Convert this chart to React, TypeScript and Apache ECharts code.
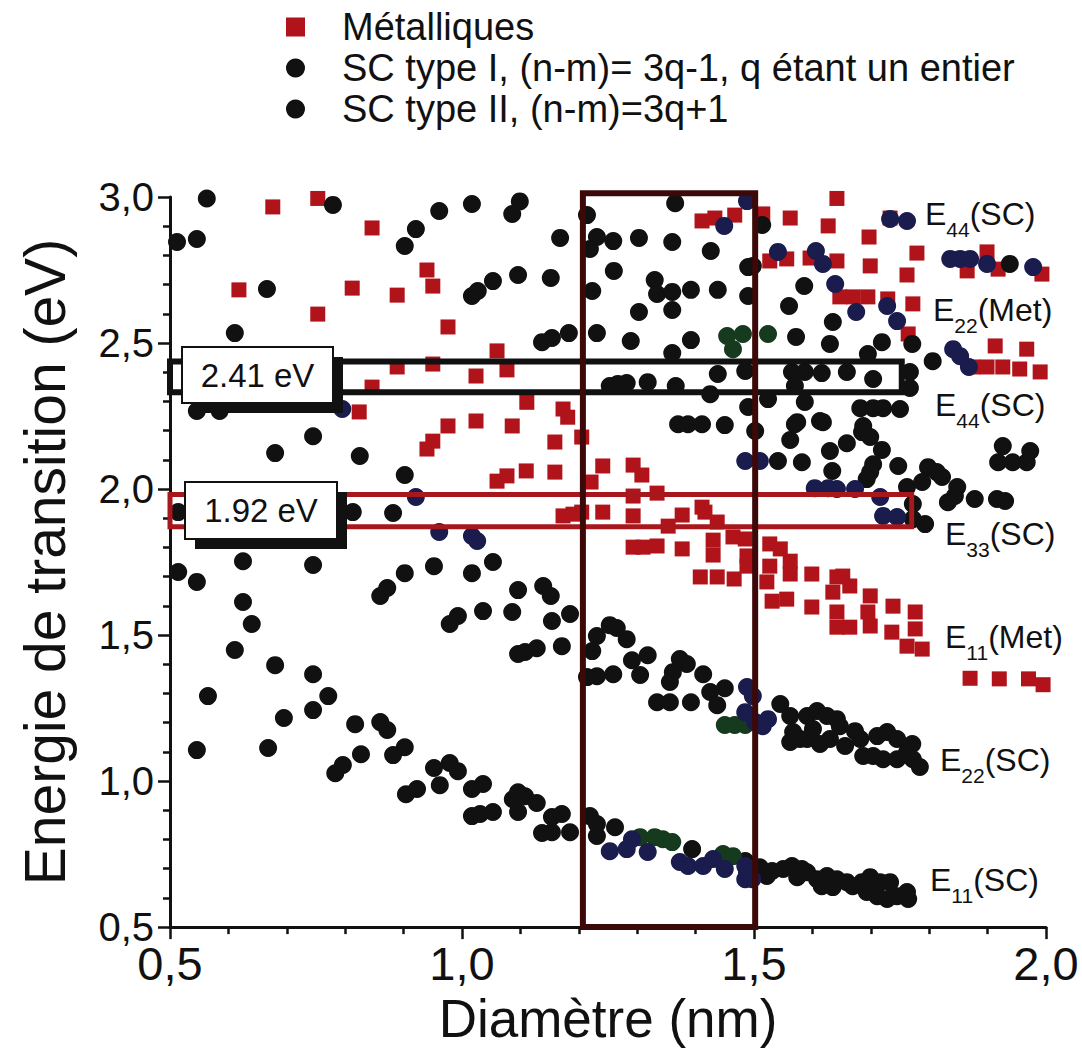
import { useEffect, useRef } from 'react';
import * as echarts from 'echarts';

const FONT = 'Liberation Sans, Arial, Helvetica, sans-serif';

const seriesNames = [
  'Métalliques',
  'SC type I, (n-m)= 3q-1, q étant un entier',
  'SC type II, (n-m)=3q+1',
];

const xTickMin = 0.5;
const xTickMax = 2.0;
const yTickMin = 0.5;
const yTickMax = 3.0;

// Metallic tubes (red squares): [diameter nm, energy eV]
const metalliques: number[][] = [
  [0.676, 2.966], [0.753, 2.995], [0.846, 2.894], [0.94, 2.75], [0.95, 2.695], [0.889, 2.664], [0.812, 2.688],
  [0.618, 2.682], [0.753, 2.599], [0.976, 2.555], [0.889, 2.418], [0.95, 2.428], [0.846, 2.349], [0.824, 2.264],
  [0.976, 2.216], [1.06, 2.473], [1.024, 2.387], [1.077, 2.408], [1.111, 2.297], [1.173, 2.274], [1.181, 2.246],
  [1.024, 2.233], [1.086, 2.216], [1.411, 2.918], [1.433, 2.928], [1.467, 2.938], [1.515, 2.942], [1.562, 2.928],
  [1.627, 2.901], [1.642, 2.995], [1.697, 2.863], [1.733, 2.928], [1.527, 2.781], [1.556, 2.788], [1.596, 2.791],
  [1.642, 2.781], [1.699, 2.764], [1.779, 2.808], [1.762, 2.733], [1.865, 2.747], [1.899, 2.812], [1.918, 2.753],
  [1.993, 2.736], [1.647, 2.658], [1.67, 2.658], [1.695, 2.658], [1.729, 2.651], [1.772, 2.634], [1.764, 2.531],
  [1.913, 2.49], [1.967, 2.479], [1.875, 2.418], [1.899, 2.418], [1.926, 2.418], [1.955, 2.411], [1.99, 2.401],
  [0.95, 2.164], [0.94, 2.137], [1.159, 2.161], [1.205, 2.178], [1.06, 2.027], [1.077, 2.045], [1.11, 2.062],
  [1.159, 2.058], [1.241, 2.079], [1.293, 2.082], [1.308, 2.048], [1.221, 2.024], [1.293, 1.976], [1.334, 1.986],
  [1.173, 1.908], [1.19, 1.914], [1.205, 1.921], [1.241, 1.921], [1.293, 1.908], [1.353, 1.873], [1.377, 1.911],
  [1.411, 1.938], [1.416, 1.921], [1.437, 1.887], [1.464, 1.836], [1.293, 1.801], [1.31, 1.801], [1.334, 1.805],
  [1.377, 1.795], [1.43, 1.825], [1.43, 1.774], [1.488, 1.736], [1.408, 1.699], [1.437, 1.699], [1.466, 1.692],
  [1.485, 1.829], [1.488, 1.771], [1.527, 1.812], [1.545, 1.795], [1.562, 1.753], [1.527, 1.736], [1.562, 1.709],
  [1.522, 1.682], [1.556, 1.623], [1.531, 1.616], [1.599, 1.709], [1.599, 1.596], [1.642, 1.699], [1.652, 1.702],
  [1.664, 1.668], [1.635, 1.647], [1.642, 1.579], [1.642, 1.527], [1.664, 1.527], [1.699, 1.634], [1.695, 1.579],
  [1.699, 1.531], [1.738, 1.599], [1.736, 1.51], [1.776, 1.579], [1.776, 1.521], [1.762, 1.462], [1.788, 1.452],
  [1.87, 1.352], [1.92, 1.35], [1.97, 1.35], [1.995, 1.33],
];

// Semiconducting tubes, black points
const scType1: number[][] = [
  [0.563, 2.995], [0.512, 2.846], [0.546, 2.856], [0.779, 2.973], [0.666, 2.685], [0.611, 2.534], [0.902, 2.832],
  [0.921, 2.89], [0.961, 2.952], [0.546, 2.267], [0.585, 2.267], [1.017, 2.976], [1.086, 2.942], [1.099, 2.985],
  [1.168, 2.86], [1.017, 2.661], [1.027, 2.678], [1.053, 2.712], [1.096, 2.733], [1.152, 2.723], [1.137, 2.503],
  [1.154, 2.517], [1.183, 2.534], [1.214, 2.938], [1.231, 2.863], [1.219, 2.822], [1.259, 2.849], [1.303, 2.86],
  [1.36, 2.846], [1.365, 2.979], [1.426, 2.815], [1.26, 2.747], [1.223, 2.678], [1.33, 2.716], [1.334, 2.668],
  [1.36, 2.675], [1.392, 2.682], [1.438, 2.682], [1.49, 2.76], [1.49, 2.661], [1.303, 2.606], [1.36, 2.613],
  [1.231, 2.534], [1.289, 2.507], [1.392, 2.51], [1.36, 2.466], [1.438, 2.394], [1.485, 2.404], [1.253, 2.353],
  [1.267, 2.36], [1.282, 2.363], [1.318, 2.366], [1.366, 2.353], [1.425, 2.325], [1.49, 2.281], [1.37, 2.222],
  [1.387, 2.222], [1.411, 2.222], [1.45, 2.219], [1.514, 2.904], [1.498, 2.764], [1.586, 2.695], [1.56, 2.627],
  [1.635, 2.572], [1.572, 2.521], [1.63, 2.497], [1.719, 2.503], [1.771, 2.497], [1.695, 2.462], [1.806, 2.438],
  [1.565, 2.401], [1.587, 2.401], [1.616, 2.397], [1.659, 2.401], [1.704, 2.377], [1.57, 2.353], [1.767, 2.401],
  [1.767, 2.346], [1.524, 2.308], [1.587, 2.298], [1.613, 2.233], [1.574, 2.229], [1.682, 2.277], [1.704, 2.277],
  [1.721, 2.277], [1.75, 2.274], [1.687, 2.216], [1.938, 2.771], [0.745, 2.181], [0.68, 2.123], [0.825, 2.113],
  [0.902, 2.048], [0.514, 1.921], [0.813, 1.921], [0.882, 1.918], [0.625, 1.753], [0.745, 1.74], [0.514, 1.716],
  [0.546, 1.682], [0.902, 1.712], [0.952, 1.736], [0.86, 1.634], [0.872, 1.661], [0.625, 1.613], [0.64, 1.538],
  [0.611, 1.449], [0.68, 1.397], [0.745, 1.366], [0.979, 1.538], [0.993, 1.565], [1.053, 1.75], [1.017, 1.712],
  [1.096, 1.654], [1.139, 1.668], [1.152, 1.634], [1.185, 1.572], [1.154, 1.548], [1.036, 1.582], [1.086, 1.579],
  [1.096, 1.435], [1.108, 1.442], [1.128, 1.455], [1.171, 1.462], [1.231, 1.497], [1.253, 1.534], [1.265, 1.524],
  [1.282, 1.486], [1.223, 1.445], [1.291, 1.414], [1.318, 1.431], [1.373, 1.418], [1.385, 1.401], [1.413, 1.366],
  [1.361, 1.373], [1.231, 1.359], [1.259, 1.366], [1.305, 1.363], [1.502, 2.199], [1.57, 2.222], [1.618, 2.229],
  [1.562, 2.168], [1.63, 2.13], [1.659, 2.157], [1.685, 2.195], [1.699, 2.178], [1.719, 2.134], [1.541, 2.096],
  [1.582, 2.092], [1.634, 2.062], [1.704, 2.085], [1.699, 2.058], [1.693, 2.034], [1.747, 2.079], [1.798, 2.075],
  [1.813, 2.058], [1.822, 2.041], [1.788, 2.024], [1.848, 2.007], [1.844, 1.976], [1.832, 1.955], [1.878, 1.966],
  [1.916, 1.966], [1.93, 1.959], [1.926, 2.147], [1.918, 2.092], [1.943, 2.092], [1.967, 2.092], [1.973, 2.13],
  [1.762, 2.007], [1.772, 1.949], [1.772, 1.897], [1.793, 1.88], [0.565, 1.291], [0.546, 1.106], [0.695, 1.216],
  [0.668, 1.113], [0.745, 1.243], [0.771, 1.291], [0.817, 1.195], [0.827, 1.092], [0.783, 1.027], [0.796, 1.055],
  [0.86, 1.202], [0.872, 1.175], [0.882, 1.089], [0.902, 1.116], [0.904, 0.955], [0.923, 0.973], [0.952, 1.045],
  [0.962, 0.986], [0.979, 1.062], [0.993, 1.034], [1.017, 0.973], [1.036, 0.99], [1.017, 0.88], [1.031, 0.887],
  [1.053, 0.894], [1.087, 0.938], [1.096, 0.962], [1.108, 0.948], [1.096, 0.894], [1.128, 0.925], [1.137, 0.822],
  [1.154, 0.825], [1.154, 0.877], [1.171, 0.887], [1.185, 0.825], [1.219, 0.88], [1.231, 0.853], [1.231, 0.812],
  [1.262, 0.842], [1.394, 0.767], [1.485, 0.726], [1.214, 1.356], [1.334, 1.27], [1.356, 1.27], [1.392, 1.27],
  [1.425, 1.305], [1.45, 1.318], [1.437, 1.26], [1.356, 1.339], [1.545, 1.264], [1.562, 1.223], [1.567, 1.168],
  [1.562, 1.134], [1.579, 1.144], [1.591, 1.223], [1.608, 1.24], [1.625, 1.223], [1.642, 1.212], [1.647, 1.188],
  [1.601, 1.178], [1.591, 1.144], [1.613, 1.127], [1.63, 1.144], [1.656, 1.12], [1.673, 1.171], [1.682, 1.144],
  [1.687, 1.086], [1.704, 1.086], [1.721, 1.075], [1.711, 1.154], [1.728, 1.168], [1.745, 1.144], [1.745, 1.075],
  [1.762, 1.099], [1.771, 1.127], [1.772, 1.075], [1.784, 1.048], [1.51, 0.705], [1.522, 0.675], [1.531, 0.692],
  [1.55, 0.699], [1.565, 0.709], [1.582, 0.699], [1.591, 0.688], [1.574, 0.671], [1.608, 0.664], [1.625, 0.675],
  [1.642, 0.664], [1.616, 0.64], [1.635, 0.637], [1.659, 0.654], [1.669, 0.64], [1.685, 0.654], [1.699, 0.671],
  [1.716, 0.654], [1.733, 0.654], [1.693, 0.62], [1.711, 0.606], [1.728, 0.596], [1.745, 0.606], [1.762, 0.62],
  [1.764, 0.596],
];

// Semiconducting points printed with a dark green tint
const scType1Green: number[][] = [
  [1.454, 2.524], [1.464, 2.479], [1.481, 2.531], [1.524, 2.531], [1.305, 0.808], [1.33, 0.808], [1.344, 0.801],
  [1.36, 0.791], [1.447, 0.75], [1.464, 0.743], [1.45, 1.192], [1.467, 1.192], [1.485, 1.192],
];

// Semiconducting points printed with a navy tint
const scType2: number[][] = [
  [1.488, 2.986], [1.449, 2.901], [1.541, 2.812], [1.606, 2.815], [1.618, 2.771], [1.639, 2.702], [1.675, 2.606],
  [1.728, 2.627], [1.745, 2.575], [1.841, 2.479], [1.853, 2.455], [1.868, 2.418], [1.733, 2.925], [1.762, 2.918],
  [1.836, 2.788], [1.853, 2.788], [1.87, 2.788], [1.899, 2.771], [1.978, 2.76], [0.795, 2.274], [0.921, 1.973],
  [0.961, 1.853], [1.017, 1.839], [1.026, 1.822], [1.485, 2.096], [1.51, 2.096], [1.604, 2.003], [1.627, 2.003],
  [1.642, 2.0], [1.673, 2.0], [1.716, 1.973], [1.721, 1.908], [1.745, 1.904], [1.253, 0.76], [1.282, 0.767],
  [1.291, 0.801], [1.318, 0.757], [1.373, 0.723], [1.387, 0.709], [1.413, 0.709], [1.43, 0.733], [1.45, 0.699],
  [1.485, 0.664], [1.488, 1.322], [1.498, 1.291], [1.485, 1.236], [1.502, 1.202], [1.515, 1.188], [1.524, 1.212],
  [1.485, 0.709], [1.488, 0.688], [1.497, 0.664],
];

// Annotation boxes in data coordinates: [x0, y0, x1, y1]
const bandBlack = [0.5, 2.331, 1.753, 2.437];
const bandRed = [0.5, 1.871, 1.77, 1.981];
const windowBox = [1.207, 0.5, 1.502, 3.013];

const bandLabels = [
  { text: '2.41 eV', x: 182, y: 347, w: 151, h: 56 },
  { text: '1.92 eV', x: 185, y: 482, w: 152, h: 57 },
];

const transitionLabels = [
  { sub: '44', tail: '(SC)', x: 925, y: 188 },
  { sub: '22', tail: '(Met)', x: 933, y: 284 },
  { sub: '44', tail: '(SC)', x: 935, y: 379 },
  { sub: '33', tail: '(SC)', x: 945, y: 508 },
  { sub: '11', tail: '(Met)', x: 945, y: 611 },
  { sub: '22', tail: '(SC)', x: 940, y: 734 },
  { sub: '11', tail: '(SC)', x: 930, y: 854 },
];

const fmt = (v: number) => v.toFixed(1).replace('.', ',');

export default function App() {
  const ref = useRef<HTMLDivElement>(null);

  useEffect(() => {
    const chart = echarts.init(ref.current!, null, { renderer: 'svg' });
    const option: any = {
      animation: false,
      backgroundColor: '#ffffff',
      textStyle: { fontFamily: FONT },
      grid: { left: 170, right: 36, top: 197, bottom: 122, containLabel: false },
      legend: {
        orient: 'vertical',
        left: 281,
        top: 3,
        itemWidth: 19,
        itemHeight: 19,
        itemGap: 3,
        selectedMode: false,
        textStyle: { fontSize: 38, color: '#111', fontFamily: FONT, padding: [0, 0, 0, 32] },
        data: [
          { name: seriesNames[0], icon: 'rect', itemStyle: { color: '#b0131a', opacity: 1 } },
          { name: seriesNames[1], icon: 'circle', itemStyle: { color: '#111', opacity: 1 } },
          { name: seriesNames[2], icon: 'circle', itemStyle: { color: '#111', opacity: 1 } },
        ],
      },
      xAxis: {
        type: 'value',
        min: xTickMin,
        max: xTickMax,
        interval: 0.5,
        name: 'Diamètre (nm)',
        nameLocation: 'middle',
        nameGap: 56,
        nameTextStyle: { fontSize: 53, color: '#111', fontFamily: FONT },
        axisLine: { show: true, onZero: false, lineStyle: { color: '#111', width: 3 } },
        axisTick: { show: true, length: 12, lineStyle: { color: '#111', width: 2.5 } },
        minorTick: { show: true, splitNumber: 5, length: 7, lineStyle: { color: '#111', width: 2.5 } },
        splitLine: { show: false },
        axisLabel: { formatter: fmt, fontSize: 47, color: '#111', margin: 13, fontFamily: FONT },
      },
      yAxis: {
        type: 'value',
        min: yTickMin,
        max: yTickMax,
        interval: 0.5,
        name: 'Energie de transition (eV)',
        nameLocation: 'middle',
        nameGap: 97,
        nameTextStyle: { fontSize: 57, color: '#111', fontFamily: FONT },
        axisLine: { show: true, onZero: false, lineStyle: { color: '#111', width: 3 } },
        axisTick: { show: true, length: 12, lineStyle: { color: '#111', width: 2.5 } },
        minorTick: { show: true, splitNumber: 5, length: 7, lineStyle: { color: '#111', width: 2.5 } },
        splitLine: { show: false },
        axisLabel: { formatter: fmt, fontSize: 40, color: '#111', margin: 16, fontFamily: FONT },
      },
      series: [
        {
          name: seriesNames[0],
          type: 'scatter',
          symbol: 'rect',
          symbolSize: 15,
          itemStyle: { color: '#b0131a', opacity: 1 },
          data: metalliques,
        },
        {
          name: seriesNames[1],
          type: 'scatter',
          symbol: 'circle',
          symbolSize: 18,
          itemStyle: { color: '#111', opacity: 1 },
          data: [
            ...scType1,
            ...scType1Green.map((p) => ({ value: p, itemStyle: { color: '#153a1d', opacity: 1 } })),
          ],
        },
        {
          name: seriesNames[2],
          type: 'scatter',
          symbol: 'circle',
          symbolSize: 18,
          itemStyle: { color: '#1a1c4e', opacity: 1 },
          data: scType2,
        },
      ],
    };
    chart.setOption(option);

    const px = (x: number, y: number) => chart.convertToPixel({ gridIndex: 0 }, [x, y]) as number[];
    const boxFrom = (b: number[], color: string, lw: number, z: number) => {
      const a = px(b[0], b[3]);
      const c = px(b[2], b[1]);
      return {
        type: 'rect',
        silent: true,
        z,
        shape: { x: a[0], y: a[1], width: c[0] - a[0], height: c[1] - a[1] },
        style: { fill: 'none', stroke: color, lineWidth: lw },
      };
    };

    const graphics: any[] = [
      boxFrom(bandBlack, '#111111', 6, 50),
      boxFrom(bandRed, '#a8171c', 5, 51),
      boxFrom(windowBox, '#3d0808', 6, 52),
    ];
    bandLabels.forEach((l) => {
      graphics.push({
        type: 'rect', silent: true, z: 60,
        shape: { x: l.x + 10, y: l.y + 10, width: l.w, height: l.h },
        style: { fill: '#111' },
      });
      graphics.push({
        type: 'rect', silent: true, z: 61,
        shape: { x: l.x, y: l.y, width: l.w, height: l.h },
        style: { fill: '#fff', stroke: '#111', lineWidth: 2 },
      });
      graphics.push({
        type: 'text', silent: true, z: 62,
        x: l.x + l.w / 2,
        y: l.y + l.h / 2,
        style: {
          text: l.text, fontSize: 33, fontFamily: FONT, fill: '#111',
          align: 'center', verticalAlign: 'middle', textAlign: 'center', textVerticalAlign: 'middle',
        },
      });
    });
    transitionLabels.forEach((l) => {
      graphics.push({
        type: 'text', silent: true, z: 63,
        x: l.x,
        y: l.y,
        style: {
          text: `{m|E}{s|${l.sub}}{m|${l.tail}}`,
          fontFamily: FONT,
          fill: '#111',
          align: 'left', verticalAlign: 'top', textAlign: 'left', textVerticalAlign: 'top',
          rich: {
            m: { fontSize: 32, lineHeight: 52, fontFamily: FONT, fill: '#111', color: '#111' },
            s: { fontSize: 21, lineHeight: 21, verticalAlign: 'bottom', fontFamily: FONT, fill: '#111', color: '#111' },
          },
        },
      });
    });
    chart.setOption({ graphic: graphics });

    return () => chart.dispose();
  }, []);

  return (
    <div
      ref={ref}
      style={{ position: 'fixed', left: 0, top: 0, width: 1082, height: 1050, background: '#fff' }}
    />
  );
}
